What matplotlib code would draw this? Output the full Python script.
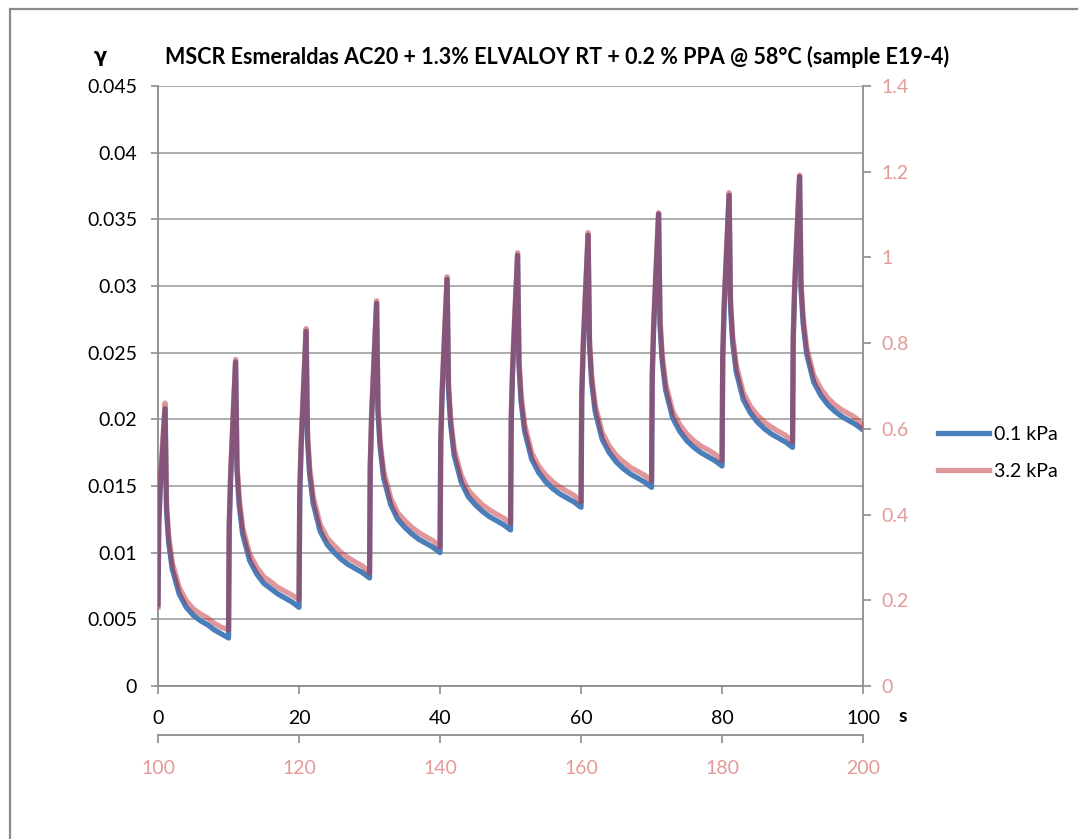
import matplotlib
matplotlib.use('Agg')
import matplotlib.pyplot as plt
from matplotlib.patches import Rectangle
from matplotlib.ticker import FuncFormatter, MultipleLocator

plt.rcParams['font.family'] = ['Lato', 'DejaVu Sans']

# sampling inside each 10 s creep/recovery cycle (1 s load, 9 s rest)
cycle_offsets = [0, 0.1, 0.3, 0.6, 1.0, 1.2, 1.5, 2, 3, 4, 5, 6, 7, 8, 9]
t_01kpa = [c * 10 + o for c in range(10) for o in cycle_offsets] + [100]
t_32kpa = [t + 100 for t in t_01kpa]

# strain at 0.1 kPa (left axis), one row per cycle
strain_01kpa = [
    0.0061, 0.0120, 0.0146, 0.0173, 0.0208, 0.0132, 0.0108, 0.0088, 0.0069, 0.0059, 0.0053, 0.0049, 0.0046, 0.0042, 0.0039,
    0.0036, 0.0119, 0.0156, 0.0193, 0.0243, 0.0162, 0.0136, 0.0114, 0.0094, 0.0084, 0.0077, 0.0073, 0.0069, 0.0066, 0.0063,
    0.0059, 0.0142, 0.0179, 0.0216, 0.0266, 0.0185, 0.0159, 0.0137, 0.0116, 0.0106, 0.0100, 0.0095, 0.0091, 0.0088, 0.0085,
    0.0081, 0.0163, 0.0201, 0.0238, 0.0287, 0.0205, 0.0179, 0.0156, 0.0136, 0.0125, 0.0119, 0.0114, 0.0110, 0.0107, 0.0104,
    0.0100, 0.0182, 0.0219, 0.0256, 0.0305, 0.0222, 0.0196, 0.0173, 0.0153, 0.0142, 0.0136, 0.0131, 0.0127, 0.0124, 0.0121,
    0.0117, 0.0199, 0.0237, 0.0274, 0.0323, 0.0240, 0.0213, 0.0191, 0.0170, 0.0160, 0.0153, 0.0148, 0.0144, 0.0141, 0.0138,
    0.0134, 0.0216, 0.0252, 0.0289, 0.0338, 0.0255, 0.0228, 0.0206, 0.0185, 0.0175, 0.0168, 0.0163, 0.0159, 0.0156, 0.0153,
    0.0149, 0.0231, 0.0268, 0.0305, 0.0354, 0.0271, 0.0244, 0.0222, 0.0201, 0.0191, 0.0184, 0.0179, 0.0175, 0.0172, 0.0169,
    0.0165, 0.0246, 0.0283, 0.0319, 0.0368, 0.0285, 0.0258, 0.0236, 0.0215, 0.0205, 0.0198, 0.0193, 0.0189, 0.0186, 0.0183,
    0.0179, 0.0260, 0.0297, 0.0333, 0.0382, 0.0298, 0.0272, 0.0249, 0.0228, 0.0218, 0.0211, 0.0206, 0.0202, 0.0199, 0.0196,
    0.0192,
]

# strain at 3.2 kPa (right axis)
strain_32kpa = [
    0.184, 0.389, 0.470, 0.554, 0.660, 0.426, 0.352, 0.289, 0.230, 0.199, 0.180, 0.168, 0.159, 0.146, 0.137,
    0.131, 0.386, 0.501, 0.616, 0.762, 0.520, 0.439, 0.370, 0.308, 0.277, 0.255, 0.243, 0.230, 0.221, 0.212,
    0.202, 0.457, 0.572, 0.688, 0.834, 0.591, 0.510, 0.442, 0.377, 0.345, 0.327, 0.311, 0.299, 0.289, 0.280,
    0.264, 0.523, 0.641, 0.756, 0.899, 0.653, 0.572, 0.501, 0.439, 0.404, 0.386, 0.370, 0.358, 0.348, 0.339,
    0.324, 0.582, 0.697, 0.812, 0.955, 0.706, 0.625, 0.554, 0.492, 0.457, 0.439, 0.423, 0.411, 0.401, 0.392,
    0.380, 0.635, 0.753, 0.868, 1.011, 0.762, 0.678, 0.610, 0.544, 0.513, 0.492, 0.476, 0.464, 0.454, 0.445,
    0.429, 0.688, 0.800, 0.915, 1.058, 0.809, 0.725, 0.656, 0.591, 0.560, 0.538, 0.523, 0.510, 0.501, 0.492,
    0.479, 0.734, 0.849, 0.965, 1.104, 0.859, 0.775, 0.706, 0.641, 0.610, 0.588, 0.572, 0.560, 0.551, 0.541,
    0.526, 0.781, 0.896, 1.008, 1.151, 0.902, 0.818, 0.750, 0.685, 0.653, 0.632, 0.616, 0.604, 0.594, 0.585,
    0.569, 0.825, 0.940, 1.052, 1.192, 0.943, 0.862, 0.790, 0.725, 0.694, 0.672, 0.656, 0.644, 0.635, 0.625,
    0.607,
]

labels = ['0.1 kPa', '3.2 kPa']
title = 'MSCR Esmeraldas AC20 + 1.3% ELVALOY RT + 0.2 % PPA @ 58°C (sample E19-4)'

blue = '#4A7EBB'
red = '#C0303A'
pink_text = '#E39A98'
axis_gray = '#8C8C8C'
grid_gray = '#A6A6A6'
fs = 14

fig = plt.figure(figsize=(10.78, 8.39), dpi=100)
rect = [0.1466, 0.1824, 0.654, 0.7151]

# outer chart frame
fig.patches.append(Rectangle((0.0093, -0.05), 1.1, 1.0393, transform=fig.transFigure,
                             fill=False, edgecolor='#8A8A8A', linewidth=1.6))

ax = fig.add_axes(rect)
ax.plot(t_01kpa, strain_01kpa, color=blue, lw=3.8, solid_joinstyle='round', label=labels[0], zorder=3)
ax.set_xlim(0, 100)
ax.set_ylim(0, 0.045)
ax.yaxis.set_major_locator(MultipleLocator(0.005))
ax.xaxis.set_major_locator(MultipleLocator(20))
ax.yaxis.set_major_formatter(FuncFormatter(lambda v, p: '%g' % round(v, 4)))
ax.grid(axis='y', color=grid_gray, lw=1.3)
ax.set_axisbelow(True)
for side in ['top', 'right']:
    ax.spines[side].set_visible(False)
for side in ['left', 'bottom']:
    ax.spines[side].set_color(axis_gray)
    ax.spines[side].set_linewidth(1.3)
ax.tick_params(axis='y', length=5, width=1.2, color=axis_gray, pad=10, labelsize=fs, labelcolor='black')
ax.tick_params(axis='x', length=6, width=1.2, color=axis_gray, pad=11, labelsize=fs, labelcolor='black')

ax2 = fig.add_axes(rect, frameon=True)
ax2.patch.set_visible(False)
ax2.plot(t_32kpa, strain_32kpa, color=red, alpha=0.5, lw=3.8, solid_joinstyle='round', label=labels[1], zorder=3)
ax2.set_xlim(100, 200)
ax2.set_ylim(0, 1.4)
ax2.xaxis.set_major_locator(MultipleLocator(20))
ax2.yaxis.set_major_locator(MultipleLocator(0.2))
ax2.yaxis.set_major_formatter(FuncFormatter(lambda v, p: '%g' % round(v, 2)))
ax2.yaxis.tick_right()
ax2.xaxis.tick_bottom()
for side in ['top', 'left']:
    ax2.spines[side].set_visible(False)
ax2.spines['bottom'].set_position(('outward', 35))
for side in ['right', 'bottom']:
    ax2.spines[side].set_color(axis_gray)
    ax2.spines[side].set_linewidth(1.3)
ax2.tick_params(axis='y', length=6, width=1.2, color=axis_gray, pad=7, labelsize=fs, labelcolor=pink_text)
ax2.tick_params(axis='x', length=6, width=1.2, color=axis_gray, pad=12, labelsize=fs, labelcolor=pink_text)

fig.text(557 / 1078, 1 - 57 / 839, title, ha='center', va='center', fontsize=15.5, fontweight='bold')
fig.text(100 / 1078, 1 - 57 / 839, 'γ', ha='center', va='center', fontsize=fs, fontweight='bold',
         family=['DejaVu Sans'])
fig.text(903 / 1078, 1 - 716 / 839, 's', ha='center', va='center', fontsize=fs, fontweight='bold')

h1, l1 = ax.get_legend_handles_labels()
h2, l2 = ax2.get_legend_handles_labels()
fig.legend(h1 + h2, l1 + l2, loc='center left', bbox_to_anchor=(938 / 1078, 1 - 453 / 839),
           frameon=False, fontsize=fs, handlelength=2.6, handletextpad=0.3, labelspacing=1.05,
           borderpad=0, borderaxespad=0)

fig.savefig('out.png', dpi=100)
